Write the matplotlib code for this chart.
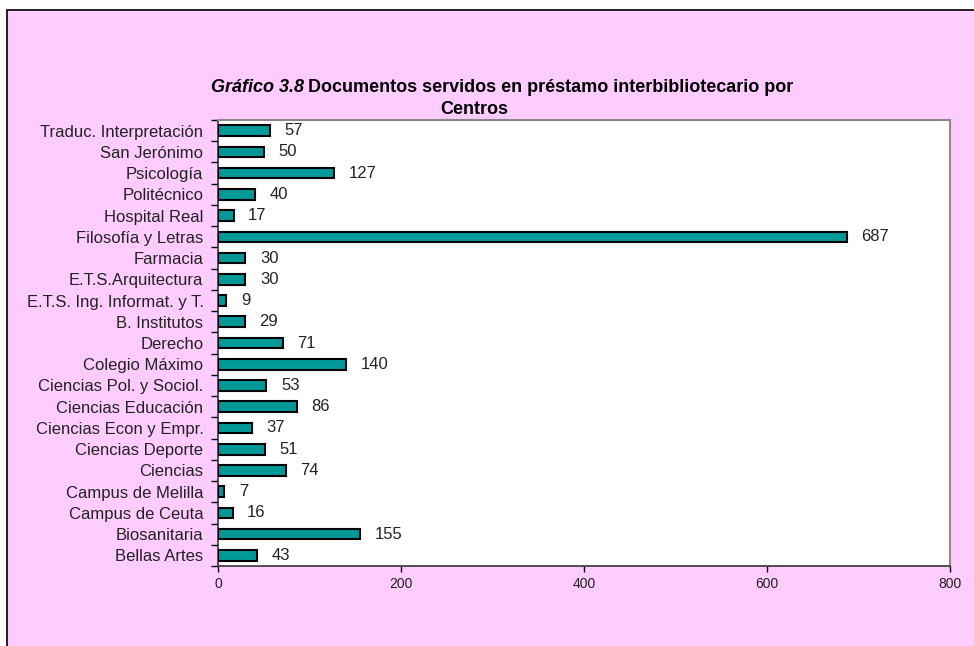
import matplotlib.pyplot as plt
import matplotlib.patches as mpatches
import numpy as np

# Datos (de abajo hacia arriba, como en el gráfico)
centros = ['Bellas Artes', 'Biosanitaria', 'Campus de Ceuta', 'Campus de Melilla',
           'Ciencias', 'Ciencias Deporte', 'Ciencias Econ y Empr.', 'Ciencias Educación',
           'Ciencias Pol. y Sociol.', 'Colegio Máximo', 'Derecho', 'B. Institutos',
           'E.T.S. Ing. Informat. y T.', 'E.T.S.Arquitectura', 'Farmacia',
           'Filosofía y Letras', 'Hospital Real', 'Politécnico', 'Psicología',
           'San Jerónimo', 'Traduc. Interpretación']
documentos = [43, 155, 16, 7, 74, 51, 37, 86, 53, 140, 71, 29, 9, 30, 30,
              687, 17, 40, 127, 50, 57]
xticks = [0, 200, 400, 600, 800]

rosa = '#FFCCFF'
verde = '#009999'

plt.rcParams['font.family'] = ['Liberation Sans', 'DejaVu Sans']

W, H = 974, 646
fig = plt.figure(figsize=(W / 100, H / 100), dpi=100)
fig.patch.set_facecolor('white')

# panel rosa con borde negro arriba/izquierda
panel = mpatches.Rectangle((7 / W, -0.1), 1.2, 1 - 10 / H + 0.1,
                           transform=fig.transFigure, facecolor=rosa,
                           edgecolor='black', linewidth=1.2, zorder=-10)
fig.patches.append(panel)

ax = fig.add_axes([218 / W, 1 - 566 / H, (950 - 218) / W, (566 - 120) / H])
ax.set_facecolor('white')

y = np.arange(len(centros))
ax.barh(y, documentos, height=0.5, color=verde, edgecolor='black', linewidth=1.5, zorder=3)

for yi, v in zip(y, documentos):
    ax.annotate(str(v), (v, yi), xytext=(10.5, 0), textcoords='offset points',
                va='center', ha='left', fontsize=12, color='#222222')

ax.set_xlim(0, 800)
ax.set_ylim(-0.5, len(centros) - 0.5)
ax.set_xticks(xticks)
ax.set_xticklabels([str(t) for t in xticks], fontsize=10, color='#222222',
                   family=['Liberation Sans Narrow', 'Liberation Sans'])
ax.set_yticks(y)
ax.set_yticklabels(centros, fontsize=12, color='#222222')
ax.tick_params(axis='y', length=0, pad=10.5)
ax.set_yticks(np.arange(len(centros) + 1) - 0.5, minor=True)
ax.tick_params(axis='y', which='minor', length=5, width=1, direction='out')
ax.tick_params(axis='x', length=4, width=1, direction='out', pad=4)

for s in ['left', 'bottom']:
    ax.spines[s].set_linewidth(1.2)
    ax.spines[s].set_color('#333333')
for s in ['right', 'top']:
    ax.spines[s].set_linewidth(1.5)
    ax.spines[s].set_color('#888888')

# Título: parte en cursiva + resto en negrita
renderer = fig.canvas.get_renderer()
tx0 = 211 / W
ty = 1 - 88 / H
t1 = fig.text(tx0, ty, 'Gráfico 3.8', fontsize=13, fontweight='bold',
              fontstyle='italic', va='center', ha='left')
bb = t1.get_window_extent(renderer=renderer)
t2 = fig.text(bb.x1 / W + 4 / W, ty,
              'Documentos servidos en préstamo interbibliotecario por',
              fontsize=13, fontweight='bold', va='center', ha='left')
fig.text(474 / W, 1 - 109 / H, 'Centros', fontsize=13, fontweight='bold',
         va='center', ha='center')

fig.savefig('out.png', dpi=100, facecolor=fig.get_facecolor())
